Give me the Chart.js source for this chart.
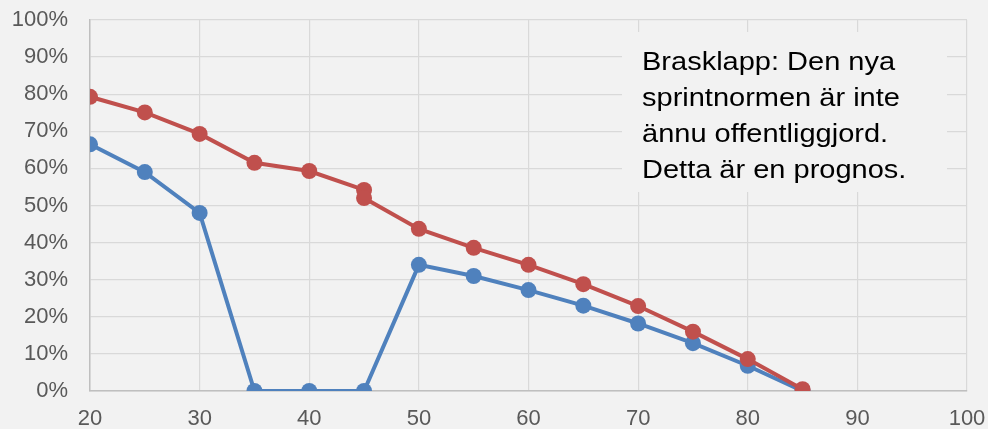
<!DOCTYPE html>
<html>
<head>
<meta charset="utf-8">
<script src="https://cdn.jsdelivr.net/npm/chart.js@4"></script>
<style>
  html, body { margin: 0; padding: 0; background: #f2f2f2; }
  #wrap { width: 988px; height: 429px; }
</style>
</head>
<body>
<div id="wrap"><canvas id="chart" width="988" height="429"></canvas></div>
<script>
// x positions and shares
const blueX = [20, 25, 30, 35, 40, 45, 50, 55, 60, 65, 70, 75, 80, 85];
const blueY = [66.5, 59, 48, 0, 0, 0, 34, 31, 27.2, 23, 18.2, 12.9, 6.8, 0];
const redX = [20, 25, 30, 35, 40, 45, 45, 50, 55, 60, 65, 70, 75, 80, 85];
const redY = [79.3, 75.1, 69.3, 61.5, 59.3, 54.2, 52, 43.7, 38.6, 34, 28.8, 22.9, 16, 8.6, 0.5];
const noteLines = [
  "Brasklapp: Den nya",
  "sprintnormen är inte",
  "ännu offentliggjord.",
  "Detta är en prognos.",
];

const toPoints = (xs, ys) => xs.map((x, i) => ({ x: x, y: ys[i] }));

const FONT = "'Liberation Sans', Arial, sans-serif";

// text box in the upper right, drawn over the grid
const notePlugin = {
  id: "note",
  afterDatasetsDraw(chart) {
    const { ctx, chartArea } = chart;
    const left = chartArea.left + 532;
    const top = chartArea.top + 12;
    ctx.save();
    ctx.fillStyle = "#f2f2f2";
    ctx.fillRect(left, top, 325, 160);
    ctx.fillStyle = "#000000";
    ctx.font = "25px " + FONT;
    ctx.textBaseline = "alphabetic";
    noteLines.forEach((line, i) => {
      ctx.save();
      ctx.translate(left + 20, top + 38 + i * 36);
      ctx.scale(1.16, 1);
      ctx.fillText(line, 0, 0);
      ctx.restore();
    });
    ctx.restore();
  },
};

const ctx = document.getElementById("chart").getContext("2d");

new Chart(ctx, {
  type: "line",
  data: {
    datasets: [
      {
        label: "Prognos",
        data: toPoints(redX, redY),
        borderColor: "#c0504d",
        backgroundColor: "#c0504d",
        order: 1,
      },
      {
        label: "Nuvarande",
        data: toPoints(blueX, blueY),
        borderColor: "#4f81bd",
        backgroundColor: "#4f81bd",
        order: 2,
      },
    ].map((ds) => ({
      ...ds,
      borderWidth: 4,
      pointRadius: 8,
      pointHoverRadius: 8,
      pointBorderWidth: 0,
      pointBackgroundColor: ds.borderColor,
      tension: 0,
      fill: false,
    })),
  },
  options: {
    responsive: false,
    animation: false,
    layout: { padding: { left: 0, right: 21, top: 20, bottom: 0 } },
    plugins: {
      legend: { display: false },
      tooltip: { enabled: false },
    },
    scales: {
      x: {
        type: "linear",
        min: 20,
        max: 100,
        grid: { color: "#d9d9d9", lineWidth: 1.2, drawTicks: false },
        border: { color: "#bfbfbf", width: 1.5 },
        ticks: {
          stepSize: 10,
          padding: 15,
          color: "#595959",
          font: { family: FONT, size: 22 },
          maxRotation: 0,
        },
        afterFit(scale) {
          scale.height = 38;
          scale.paddingLeft = 0;
          scale.paddingRight = 0;
        },
      },
      y: {
        min: 0,
        max: 100,
        grid: { color: "#d9d9d9", lineWidth: 1.2, drawTicks: false },
        border: { color: "#bfbfbf", width: 1.5 },
        ticks: {
          stepSize: 10,
          padding: 22,
          color: "#595959",
          font: { family: FONT, size: 22 },
          callback: (v) => v + "%",
        },
        afterFit(scale) {
          scale.width = 90;
          scale.paddingTop = 0;
          scale.paddingBottom = 0;
        },
      },
    },
  },
  plugins: [notePlugin],
});
</script>
</body>
</html>
